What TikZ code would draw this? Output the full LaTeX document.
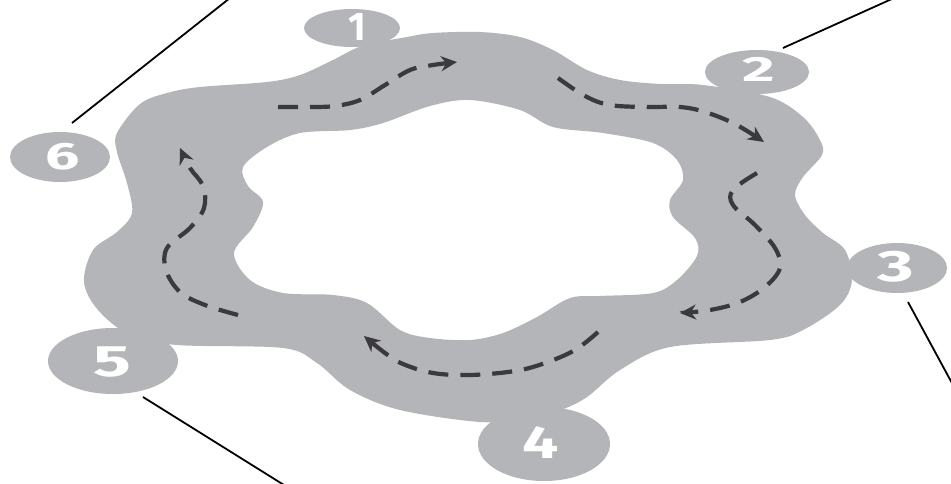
\documentclass[tikz,border=0pt]{standalone}
\usepackage{fontspec}
\setmainfont{Fira Sans}
\usetikzlibrary{shapes.geometric,arrows.meta}
\definecolor{ringgrey}{HTML}{B4B5B8}
\definecolor{dashgrey}{HTML}{3A3A3C}
\newcommand{\bubdigit}[2]{\scalebox{#1}[1]{#2}}
\tikzset{
  bubble/.style={ellipse, fill=ringgrey, inner sep=0pt},
  digit/.style={text=white, inner sep=0pt, font=\fontsize{44}{44}\selectfont\bfseries},
  route/.style={draw=dashgrey, line width=4.2pt, dash pattern=on 20pt off 12pt,
    -{Stealth[length=16pt,width=15pt]}},
  leader/.style={draw=black, line width=1.8pt}
}
\begin{document}
\begin{tikzpicture}[x=1pt,y=-1pt]
\useasboundingbox (0,0) rectangle (951,483);
\fill[white] (0,0) rectangle (951,483);
% ring
\fill[ringgrey, even odd rule]
  plot[smooth cycle, tension=0.55] coordinates {
    (117,133) (140,104) (167,93) (200,87) (267,82) (300,75) (333,60) (362,46)
    (407,37) (433,33) (480,32) (520,37) (553,50) (587,70) (620,80) (660,84)
    (703,85) (770,97) (803,117) (820,140) (822,155) (803,177) (795,195)
    (805,215) (823,233) (845,250) (852,280) (840,305) (803,330) (770,340)
    (670,347) (620,370) (587,397) (560,410) (520,418) (480,422) (400,410)
    (350,390) (317,363) (283,348) (177,345) (130,335) (98,310) (84,282)
    (93,250) (117,232) (132,213) (127,183) (117,152)}
  plot[smooth cycle, tension=0.55] coordinates {
    (243,167) (267,147) (300,133) (350,130) (383,123) (430,106) (470,100)
    (520,110) (553,127) (603,133) (653,143) (677,160) (683,180) (670,200)
    (673,217) (695,238) (697,256) (677,280) (653,293) (600,296) (570,298)
    (537,317) (503,333) (470,340) (430,338) (400,330) (367,303) (333,295)
    (283,293) (250,280) (234,253) (253,227) (263,202) (248,186)};
% bubbles
\node[bubble, minimum width=96pt, minimum height=38pt] (b1) at (352,28) {};
\node[bubble, minimum width=104pt, minimum height=44pt] (b2) at (757,72) {};
\node[bubble, minimum width=100pt, minimum height=50pt] (b3) at (897,268) {};
\node[bubble, minimum width=132pt, minimum height=74pt] (b4) at (544,444) {};
\node[bubble, minimum width=130pt, minimum height=66pt] (b5) at (113,361) {};
\node[bubble, minimum width=100pt, minimum height=50pt] (b6) at (60,157) {};
% digits
\node[digit, font=\fontsize{40}{40}\selectfont\bfseries] (n1) at (357,27) {\bubdigit{0.95}{1}};
\node[digit, font=\fontsize{35}{35}\selectfont\bfseries] (n2) at (759,69) {\bubdigit{1.8}{2}};
\node[digit] (n3) at (896,267) {\bubdigit{1.6}{3}};
\node[digit, font=\fontsize{46}{46}\selectfont\bfseries] (n4) at (541,443) {\bubdigit{1.4}{4}};
\node[digit] (n5) at (112,362) {\bubdigit{1.6}{5}};
\node[digit, font=\fontsize{38}{38}\selectfont\bfseries] (n6) at (63,157) {\bubdigit{1.6}{6}};
% route arrows
\draw[route] plot[smooth, tension=0.6] coordinates {
  (278,107) (310,107) (335,106) (360,100) (385,85) (410,70) (433,65) (457,62)};
\draw[route] plot[smooth, tension=0.6] coordinates {
  (558,78) (585,96) (610,105) (647,107) (680,107) (705,112) (735,124) (764,142)};
\draw[route] plot[smooth, tension=0.6] coordinates {
  (757,173) (733,190) (733,205) (755,225) (775,248) (780,268) (765,287)
  (740,302) (710,310) (680,313)};
\draw[route] plot[smooth, tension=0.6] coordinates {
  (598,332) (575,350) (545,363) (515,371) (470,375) (433,373) (403,364)
  (385,353) (364,336)};
\draw[route] plot[smooth, tension=0.6] coordinates {
  (238,315) (205,305) (180,292) (166,270) (167,248) (190,228) (204,208)
  (203,186) (190,168) (180,148)};
% leader lines
\coordinate (l6a) at (72,123);  \coordinate (l6b) at (230,-2);
\coordinate (l2a) at (783,48);  \coordinate (l2b) at (894,-2);
\coordinate (l3a) at (908,302); \coordinate (l3b) at (953,385);
\coordinate (l5a) at (143,397); \coordinate (l5b) at (284,485);
\draw[leader] (l6a) -- (l6b);
\draw[leader] (l2a) -- (l2b);
\draw[leader] (l3a) -- (l3b);
\draw[leader] (l5a) -- (l5b);
\end{tikzpicture}
\end{document}
